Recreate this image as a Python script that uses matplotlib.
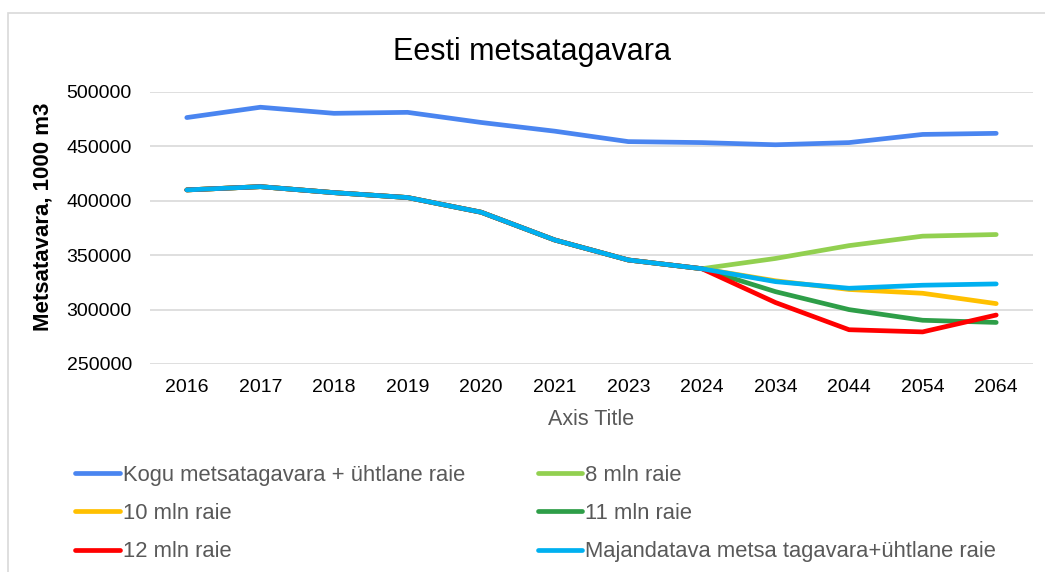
import matplotlib
matplotlib.use("Agg")
import matplotlib.pyplot as plt
from matplotlib.patches import Rectangle

plt.rcParams['font.family'] = ['Liberation Sans', 'DejaVu Sans']

years = ["2016", "2017", "2018", "2019", "2020", "2021", "2023", "2024", "2034", "2044", "2054", "2064"]

common = [410000, 413000, 407500, 403000, 389500, 364000, 345600, 337600]

kogu = [476500, 486000, 480400, 481300, 472000, 464000, 454400, 453500, 451500, 453500, 461000, 462000]
mln8 = common + [347000, 358800, 367500, 369000]
mln10 = common + [326500, 318500, 315000, 305500]
mln11 = common + [316500, 300000, 290200, 288200]
mln12 = common + [306500, 281500, 279500, 295000]
majandatava = common + [325700, 319600, 322400, 323600]

series = [
    ("Kogu metsatagavara + ühtlane raie", kogu, "#4a85f0"),
    ("8 mln raie", mln8, "#92d050"),
    ("10 mln raie", mln10, "#ffc000"),
    ("11 mln raie", mln11, "#2e9e48"),
    ("12 mln raie", mln12, "#ff0000"),
    ("Majandatava metsa tagavara+ühtlane raie", majandatava, "#00b0f0"),
]

yticks = [250000, 300000, 350000, 400000, 450000, 500000]

W, H = 1045, 572
fig = plt.figure(figsize=(W / 100, H / 100), dpi=100)

# chart border (cropped at right/bottom)
fig.patches.append(Rectangle((8 / W, -0.05), 1.2, 1 - 13 / H + 0.05, transform=fig.transFigure,
                             fill=False, edgecolor="#d9d9d9", linewidth=1.2))

ax = fig.add_axes([150 / W, 1 - 364 / H, 883 / W, 272 / H])
x = list(range(len(years)))
handles = {}
for name, vals, col in series:
    ln, = ax.plot(x, vals, color=col, linewidth=3.4, solid_capstyle="round", solid_joinstyle="round", label=name)
    handles[name] = ln

ax.set_xlim(-0.5, len(years) - 0.5)
ax.set_ylim(250000, 500000)
ax.set_yticks(yticks)
ax.set_yticklabels([str(v) for v in yticks])
ax.set_xticks(x)
ax.set_xticklabels(years)
ax.tick_params(axis="y", length=0, pad=13, labelsize=14, labelcolor="#000000")
ax.tick_params(axis="x", length=0, pad=11, labelsize=14, labelcolor="#000000")
for s in ax.spines.values():
    s.set_visible(False)
ax.grid(axis="y", color="#d9d9d9", linewidth=1.2)
ax.set_axisbelow(True)

ax.set_xlabel("Axis Title", fontsize=15.5, color="#595959", labelpad=9)
ax.set_ylabel("Metsatavara, 1000 m3", fontsize=16, fontweight="bold", color="#000000")
ax.yaxis.set_label_coords(-0.109, 0.54)

fig.text(532 / W, 1 - 52 / H, "Eesti metsatagavara", fontsize=22, color="#000000", ha="center", va="center")

order = ["Kogu metsatagavara + ühtlane raie", "10 mln raie", "12 mln raie",
         "8 mln raie", "11 mln raie", "Majandatava metsa tagavara+ühtlane raie"]
leg = fig.legend([handles[n] for n in order], order, loc="upper left",
                 bbox_to_anchor=(75 / W, 1 - 465 / H), ncol=2, frameon=False,
                 fontsize=15.8, handlelength=2.05, handletextpad=0.13, columnspacing=3.3,
                 labelspacing=0.78, borderpad=0, borderaxespad=0)
for t in leg.get_texts():
    t.set_color("#595959")

fig.savefig("out.png", dpi=100)
